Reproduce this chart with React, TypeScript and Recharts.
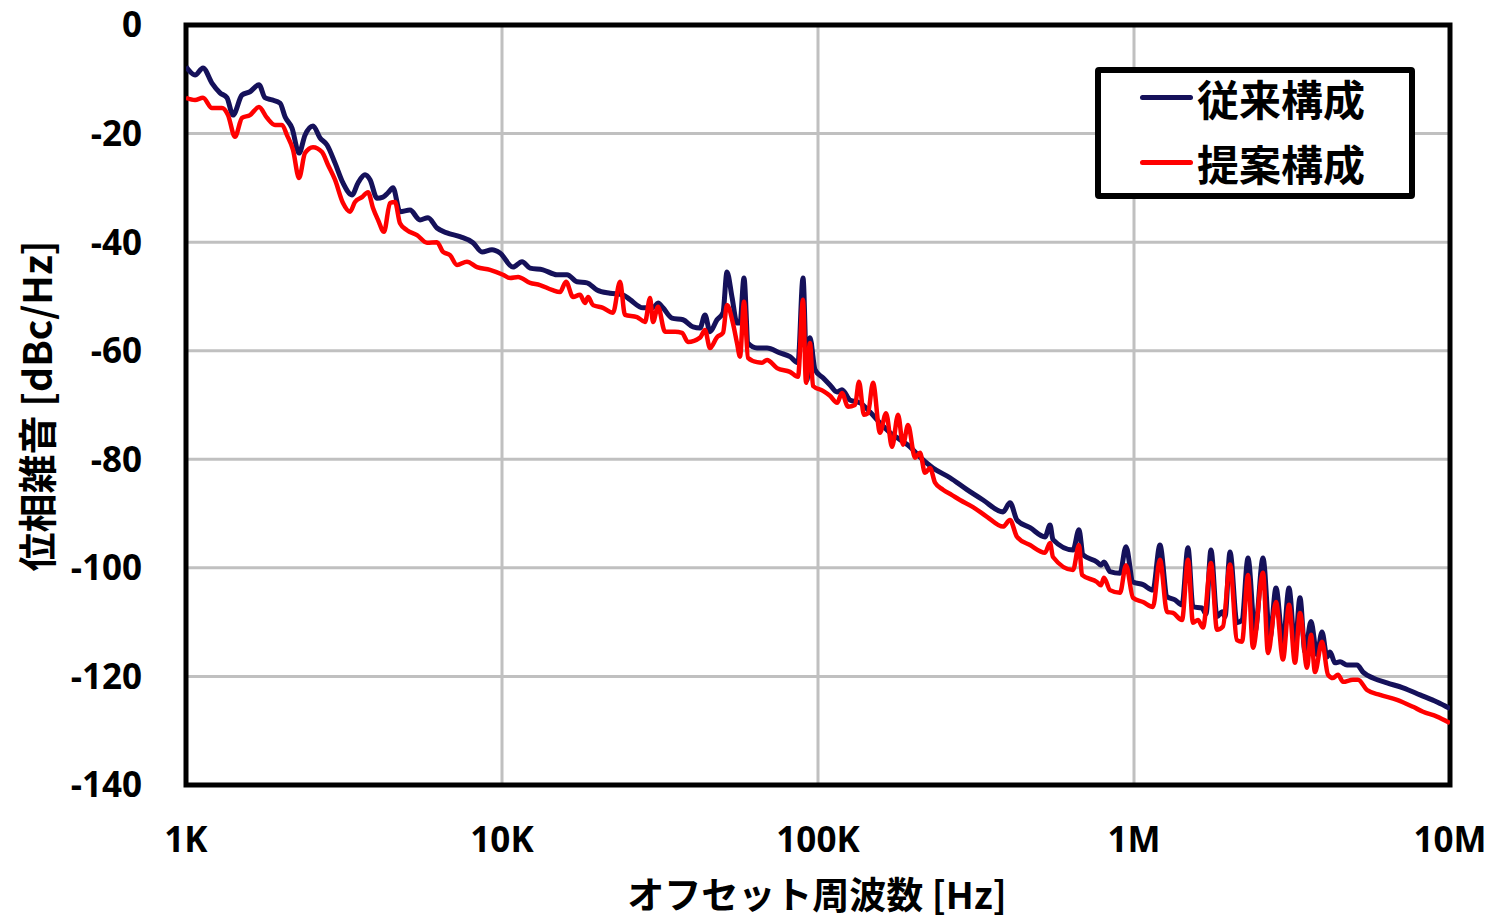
import { CartesianGrid, Label, Legend, Line, LineChart, ReferenceArea, XAxis, YAxis } from 'recharts';

// 従来構成 (conventional)
const convFreq = [
  1000, 1068, 1132, 1208, 1281, 1348, 1408, 1504, 1594, 1702,
  1778, 1872, 1984, 2058, 2165, 2279, 2380, 2523, 2656, 2795,
  2961, 3139, 3352, 3502, 3686, 3823, 4022, 4202, 4358, 4520,
  4755, 5115, 5501, 5833, 6227, 6697, 7363, 8095, 8646, 9298,
  9856, 10830, 11570, 12270, 13480, 14930, 16060, 17280, 18580, 19980,
  21970, 24150, 25420, 27940, 30050, 31170, 32320, 34510, 37390, 40220,
  42330, 43890, 45520, 47910, 50050, 51520, 53430, 55420, 56650, 58320,
  60050, 64120, 68970, 75820, 81540, 86440, 89650, 92310, 94340, 97840,
  103700, 109100, 114900, 119100, 126300, 135800, 146100, 157100, 169000, 181800,
  195500, 210300, 231200, 261600, 296100, 332900, 385000, 405200, 426400, 468800,
  522900, 542300, 554200, 641200, 669800, 689600, 763500, 786200, 803600, 839500,
  903000, 943400, 992700, 1068000, 1148000, 1208000, 1272000, 1348000, 1419000, 1482000,
  1537000, 1641000, 1690000, 1752000, 1831000, 1899000, 1941000, 2013000, 2118000, 2197000,
  2295000, 2415000, 2560000, 2694000, 2814000, 2961000, 3094000, 3232000, 3352000, 3476000,
  3632000, 3794000, 3934000, 4081000, 4172000, 4327000, 4487000, 4722000, 5078000, 5305000,
  5705000, 6320000, 7101000, 8039000, 9096000, 10000000,
];
const convDb = [
  -7.7, -9.2, -7.9, -10.7, -12.5, -13.4, -16.6, -12.9, -12.3, -11.0,
  -13.4, -13.8, -14.4, -16.9, -19.0, -23.6, -20.3, -18.6, -20.8, -22.1,
  -25.4, -29.1, -31.3, -29.1, -27.6, -28.5, -31.9, -31.7, -30.9, -30.0,
  -34.4, -34.1, -35.9, -35.5, -37.4, -38.3, -39.0, -40.1, -41.8, -41.4,
  -42.0, -44.6, -43.6, -44.8, -45.1, -46.0, -46.0, -47.3, -47.5, -48.8,
  -49.4, -49.7, -50.6, -52.1, -52.1, -51.2, -52.1, -54.0, -54.3, -55.6,
  -55.8, -53.4, -56.5, -54.3, -53.0, -45.5, -50.1, -54.9, -54.9, -46.6,
  -58.6, -59.5, -59.5, -60.4, -61.1, -62.2, -46.6, -65.4, -57.6, -63.5,
  -65.0, -66.3, -67.6, -67.2, -69.1, -69.6, -71.3, -73.3, -75.1, -76.4,
  -77.7, -79.6, -81.6, -83.4, -85.6, -87.5, -89.7, -88.0, -91.2, -92.6,
  -94.3, -92.1, -94.8, -96.7, -93.0, -97.6, -98.9, -99.5, -98.9, -100.7,
  -101.0, -96.1, -102.6, -103.1, -104.1, -95.8, -105.3, -105.9, -106.8, -96.3,
  -107.2, -107.4, -108.5, -96.7, -109.0, -108.1, -109.0, -97.1, -110.1, -109.6,
  -98.2, -111.8, -98.2, -112.9, -103.7, -113.8, -103.7, -114.7, -105.5, -115.5,
  -109.9, -116.0, -111.8, -116.4, -115.5, -117.5, -117.3, -117.9, -117.9, -119.2,
  -120.3, -121.2, -122.1, -123.4, -124.7, -125.9,
];

// 提案構成 (proposed)
const propFreq = [
  1000, 1068, 1132, 1208, 1300, 1358, 1429, 1504, 1594, 1702,
  1804, 1912, 2013, 2087, 2181, 2279, 2380, 2523, 2694, 2815,
  2961, 3139, 3304, 3426, 3606, 3767, 3906, 4051, 4232, 4421,
  4585, 4755, 5005, 5383, 5790, 6227, 6506, 6846, 7204, 7748,
  8333, 9163, 10070, 10600, 11240, 12270, 13190, 14390, 15260, 15940,
  16780, 17650, 18310, 18720, 19410, 20870, 22450, 23630, 24500, 26750,
  28350, 29410, 30050, 31170, 32800, 35280, 37120, 38780, 42330, 43890,
  45520, 47910, 50050, 51520, 53830, 55420, 56650, 58320, 60050, 64120,
  66500, 68970, 74190, 81540, 86440, 89650, 91630, 94340, 96430, 103700,
  109100, 114900, 119100, 124400, 131000, 134800, 139800, 143900, 149300, 157100,
  164200, 171500, 179200, 185800, 192700, 202800, 210300, 218100, 226200, 234600,
  248600, 265500, 281400, 309400, 342600, 385000, 405200, 426400, 468800, 522900,
  542300, 554200, 641200, 669800, 684600, 763500, 786200, 803600, 839500, 903000,
  943400, 992700, 1068000, 1148000, 1208000, 1272000, 1328000, 1419000, 1482000, 1537000,
  1594000, 1653000, 1752000, 1831000, 1912000, 2013000, 2118000, 2197000, 2295000, 2380000,
  2560000, 2655000, 2814000, 2961000, 3094000, 3232000, 3352000, 3528000, 3632000, 3739000,
  3934000, 4111000, 4263000, 4421000, 4586000, 4932000, 5115000, 5462000, 6004000, 6797000,
  7637000, 8214000, 9096000, 10000000,
];
const propDb = [
  -13.4, -13.8, -13.4, -15.3, -15.3, -16.6, -20.6, -17.1, -16.6, -15.1,
  -17.1, -18.4, -18.4, -20.3, -23.0, -28.2, -23.6, -22.5, -23.4, -25.8,
  -28.5, -32.8, -34.4, -32.6, -31.7, -30.8, -33.7, -35.9, -38.1, -32.8,
  -32.6, -36.5, -37.8, -38.7, -40.1, -40.0, -41.8, -42.4, -44.2, -43.6,
  -44.6, -45.1, -46.0, -46.6, -46.4, -47.5, -47.9, -48.8, -49.2, -47.3,
  -50.1, -49.7, -51.2, -50.1, -51.6, -52.1, -53.0, -47.3, -53.4, -53.8,
  -54.7, -50.3, -54.7, -51.9, -56.5, -56.5, -56.7, -58.4, -57.6, -56.2,
  -59.5, -57.5, -56.7, -51.6, -55.0, -58.6, -61.1, -51.0, -61.3, -62.1,
  -62.2, -61.7, -63.2, -63.9, -64.8, -50.6, -65.9, -58.6, -66.5, -67.4,
  -68.3, -69.6, -67.8, -70.3, -70.0, -65.7, -71.8, -71.5, -65.9, -75.1,
  -71.5, -77.7, -71.8, -77.3, -73.7, -79.7, -78.8, -82.5, -81.6, -84.3,
  -85.6, -86.6, -87.5, -88.8, -90.6, -92.4, -91.2, -94.3, -95.8, -97.2,
  -95.4, -98.0, -100.4, -95.8, -101.3, -102.6, -103.2, -101.8, -104.1, -104.6,
  -99.5, -105.5, -106.3, -107.2, -98.5, -108.1, -108.3, -109.6, -98.5, -110.1,
  -109.6, -111.0, -99.1, -111.4, -110.8, -99.4, -113.3, -113.6, -101.3, -114.7,
  -100.9, -115.7, -106.3, -116.9, -106.8, -117.5, -108.3, -118.4, -112.3, -119.2,
  -113.6, -119.7, -120.3, -119.7, -121.0, -120.6, -120.6, -122.5, -123.4, -124.3,
  -125.6, -126.5, -127.4, -128.6,
];

const seriesNames = ['従来構成', '提案構成'];
const seriesColors = ['#15115a', '#ff0000'];

const xTicks = [1000, 10000, 100000, 1000000, 10000000];
const xTickLabels = ['1K', '10K', '100K', '1M', '10M'];
const yTicks = [0, -20, -40, -60, -80, -100, -120, -140];

const xTitle = 'オフセット周波数 [Hz]';
const yTitle = '位相雑音 [dBc/Hz]';

const convData = convFreq.map((f, i) => ({ f, db: convDb[i] }));
const propData = propFreq.map((f, i) => ({ f, db: propDb[i] }));

const TICK_FONT = "'Open Sans', 'Noto Sans CJK JP', sans-serif";
const JP_FONT = "'Noto Sans CJK JP', sans-serif";

function LegendBox() {
  return (
    <div
      style={{
        boxSizing: 'border-box',
        width: 320,
        height: 132,
        border: '6px solid #000',
        borderRadius: 4,
        background: '#fff',
      }}
    >
      {seriesNames.map((name, i) => (
        <div
          key={name}
          style={{ display: 'flex', alignItems: 'center', height: 65, marginTop: i === 0 ? -8 : 0 }}
        >
          <span
            style={{
              display: 'inline-block',
              width: 53,
              height: 5,
              borderRadius: 3,
              background: seriesColors[i],
              marginLeft: 39,
              marginRight: 4,
            }}
          />
          <span style={{ fontFamily: JP_FONT, fontWeight: 700, fontSize: 42, color: '#000', lineHeight: 1 }}>
            {name}
          </span>
        </div>
      ))}
    </div>
  );
}

export default function App() {
  return (
    <div style={{ position: 'absolute', left: 0, top: 0, background: '#fff' }}>
      <LineChart width={1493} height={920} margin={{ top: 25, right: 43, left: 0, bottom: 0 }}>
        <CartesianGrid stroke="#c0c0c0" strokeWidth={3} />
        <XAxis
          dataKey="f"
          type="number"
          scale="log"
          domain={[1000, 10000000]}
          ticks={xTicks}
          tickFormatter={(v: number) => xTickLabels[xTicks.indexOf(v)] ?? ''}
          allowDataOverflow
          axisLine={false}
          tickLine={false}
          tickSize={0}
          tickMargin={42}
          height={135}
          tick={{ fontSize: 35, fontWeight: 700, fill: '#000', fontFamily: TICK_FONT }}
        >
          <Label
            content={() => (
              <text
                x={817}
                y={893}
                textAnchor="middle"
                dominantBaseline="central"
                style={{ fontFamily: JP_FONT, fontWeight: 700, fontSize: 37, fill: '#000' }}
              >
                {xTitle}
              </text>
            )}
          />
        </XAxis>
        <YAxis
          type="number"
          domain={[-140, 0]}
          ticks={yTicks}
          allowDataOverflow
          axisLine={false}
          tickLine={false}
          tickSize={0}
          tickMargin={44}
          width={186}
          tick={{ fontSize: 35, fontWeight: 700, fill: '#000', fontFamily: TICK_FONT }}
        >
          <Label
            content={() => (
              <text
                x={35}
                y={406}
                transform="rotate(-90 35 406)"
                textAnchor="middle"
                dominantBaseline="central"
                style={{ fontFamily: JP_FONT, fontWeight: 700, fontSize: 39, fill: '#000' }}
              >
                {yTitle}
              </text>
            )}
          />
        </YAxis>
        <Line
          data={convData}
          dataKey="db"
          name={seriesNames[0]}
          type="monotone"
          stroke={seriesColors[0]}
          strokeWidth={5}
          strokeLinejoin="round"
          dot={false}
          activeDot={false}
          isAnimationActive={false}
        />
        <Line
          data={propData}
          dataKey="db"
          name={seriesNames[1]}
          type="monotone"
          stroke={seriesColors[1]}
          strokeWidth={4.5}
          strokeLinejoin="round"
          dot={false}
          activeDot={false}
          isAnimationActive={false}
        />
        <ReferenceArea
          x1={1000}
          x2={10000000}
          y1={-140}
          y2={0}
          fill="none"
          fillOpacity={0}
          stroke="#000"
          strokeWidth={5}
        />
        <Legend
          layout="horizontal"
          verticalAlign="middle"
          align="center"
          content={() => <LegendBox />}
          wrapperStyle={{ left: 1095, top: 67, width: 320, height: 132 }}
        />
      </LineChart>
    </div>
  );
}
